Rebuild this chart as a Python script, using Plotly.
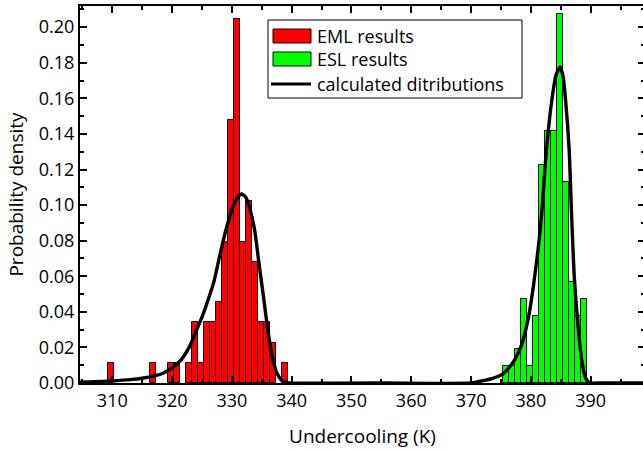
import plotly.graph_objects as go

# ---- data ----
eml_x = [309.8, 316.8, 319.8, 320.8, 322.8, 323.8, 324.8, 325.8, 326.8, 327.8,
         328.8, 329.8, 330.8, 331.8, 332.8, 333.8, 334.8, 335.8, 336.8, 338.8]
eml_density = [0.0114, 0.0114, 0.0114, 0.0114, 0.0114, 0.0341, 0.0114, 0.0341, 0.0341, 0.0455,
               0.0795, 0.1477, 0.2045, 0.0795, 0.1023, 0.0682, 0.0341, 0.0341, 0.0227, 0.0114]

esl_x = [375.9, 376.9, 377.9, 378.9, 379.9, 380.9, 381.9, 382.9, 383.9, 384.9,
         385.9, 386.9, 387.9, 388.9]
esl_density = [0.0094, 0.0094, 0.0189, 0.0472, 0.0094, 0.0377, 0.1226, 0.1415, 0.1415, 0.2075,
               0.1132, 0.0566, 0.0377, 0.0472]

calc_x = [304.6, 307.0, 310.0, 313.0, 315.0, 317.0, 318.5, 320.0, 321.5, 323.0,
          324.0, 325.0, 326.0, 327.0, 328.0, 329.0, 330.0, 331.0, 331.6, 332.3,
          333.0, 333.8, 334.5, 335.3, 336.0, 336.8, 337.6, 338.4, 339.2, 340.0,
          355.0, 370.0, 371.5, 373.5, 375.4, 377.1, 378.5, 379.6, 380.4, 381.2,
          381.8, 382.6, 383.5, 384.2, 384.9, 385.4, 385.8, 386.4, 386.8, 387.25,
          387.9, 388.5, 389.2, 389.9, 391.0, 399.1]
calc_density = [0.0005, 0.0007, 0.0012, 0.0019, 0.0027, 0.0040, 0.0055, 0.0085, 0.0130, 0.0210,
                0.0290, 0.0370, 0.0465, 0.0570, 0.0720, 0.0860, 0.0975, 0.1045, 0.1062, 0.1045,
                0.0980, 0.0860, 0.0680, 0.0480, 0.0300, 0.0140, 0.0050, 0.0012, 0.0002, 0.0,
                0.0, 0.0, 0.0010, 0.0025, 0.0053, 0.0120, 0.0220, 0.0370, 0.0540, 0.0750,
                0.0950, 0.1310, 0.1590, 0.1730, 0.1776, 0.1720, 0.1590, 0.1310, 0.0950, 0.0600,
                0.0315, 0.0128, 0.0025, 0.0, 0.0, 0.0]

x_ticks = [310, 320, 330, 340, 350, 360, 370, 380, 390]
y_ticks = [0.00, 0.02, 0.04, 0.06, 0.08, 0.10, 0.12, 0.14, 0.16, 0.18, 0.20]
y_tick_labels = ["0.00", "0.02", "0.04", "0.06", "0.08", "0.10", "0.12", "0.14", "0.16", "0.18", "0.20"]

series_names = ["EML results", "ESL results", "calculated ditributions"]
series_colors = ["#ff0000", "#00ff00", "black"]

FONT = "Open Sans"
TICK_SIZE = 18
TEXT_SIZE = 19
LEGEND_SIZE = 18

fig = go.Figure()
fig.add_trace(go.Bar(x=eml_x, y=eml_density, width=1.0, name=series_names[0],
                     marker=dict(color=series_colors[0], line=dict(color="#1a0000", width=1))))
fig.add_trace(go.Bar(x=esl_x, y=esl_density, width=1.0, name=series_names[1],
                     marker=dict(color=series_colors[1], line=dict(color="#001a00", width=1))))
fig.add_trace(go.Scatter(x=calc_x, y=calc_density, mode="lines", name=series_names[2],
                         line=dict(color=series_colors[2], width=3.4, shape="spline", smoothing=0.6)))

# legend drawn as a framed box (paper coordinates), matching the reference's wide swatches
W, H = 645, 449
L, R, T, B = 80, 0, 6, 66
pw, ph = W - L - R, H - T - B


def px(xp):
    return (xp - L) / pw


def py(yp):
    return (H - B - yp) / ph


shapes = [
    dict(type="rect", xref="paper", yref="paper", x0=px(268), x1=px(522), y0=py(98), y1=py(20),
         line=dict(color="black", width=1), fillcolor="white", layer="above"),
    dict(type="rect", xref="paper", yref="paper", x0=px(273), x1=px(311), y0=py(43), y1=py(29),
         line=dict(color="#1a0000", width=1), fillcolor=series_colors[0], layer="above"),
    dict(type="rect", xref="paper", yref="paper", x0=px(273), x1=px(311), y0=py(66), y1=py(52),
         line=dict(color="#001a00", width=1), fillcolor=series_colors[1], layer="above"),
    dict(type="line", xref="paper", yref="paper", x0=px(271), x1=px(311), y0=py(84), y1=py(84),
         line=dict(color=series_colors[2], width=3), layer="above"),
]
annotations = []
for name, ycen in zip(series_names, [36, 59.5, 83.5]):
    annotations.append(dict(text=name, xref="paper", yref="paper", x=px(315), y=py(ycen),
                            xanchor="left", yanchor="middle", showarrow=False,
                            font=dict(family=FONT, size=LEGEND_SIZE, color="black")))

fig.update_layout(
    width=W, height=H,
    margin=dict(l=L, r=R, t=T, b=B, autoexpand=False),
    paper_bgcolor="white", plot_bgcolor="white",
    font=dict(family=FONT, size=TEXT_SIZE, color="black"),
    barmode="overlay",
    bargap=0,
    showlegend=False,
    shapes=shapes,
    annotations=annotations,
)
fig.update_xaxes(
    range=[304.6, 304.6 + pw / 5.98], tickmode="array", tickvals=x_ticks,
    ticks="inside", ticklen=7, tickwidth=1.5, tickcolor="black",
    minor=dict(ticks="inside", ticklen=4, tickwidth=1.5, tickcolor="black", dtick=5, tick0=305),
    showline=True, linecolor="black", linewidth=2, mirror="ticks",
    showgrid=False, zeroline=False,
    tickfont=dict(family=FONT, size=TICK_SIZE),
    title=dict(text="Undercooling (K)", font=dict(family=FONT, size=TEXT_SIZE), standoff=20),
)
fig.update_yaxes(
    range=[0, 0.2119], tickmode="array", tickvals=y_ticks, ticktext=y_tick_labels,
    ticks="inside", ticklen=7, tickwidth=1.5, tickcolor="black",
    minor=dict(ticks="inside", ticklen=4, tickwidth=1.5, tickcolor="black", dtick=0.01, tick0=0),
    showline=True, linecolor="black", linewidth=2, mirror="ticks",
    showgrid=False, zeroline=False,
    tickfont=dict(family=FONT, size=TICK_SIZE),
    title=dict(text="Probability density", font=dict(family=FONT, size=TEXT_SIZE), standoff=10),
)

fig.write_html("out.html", config={"displayModeBar": False},
               post_script="document.body.style.margin='0px';document.body.style.overflow='hidden';")
